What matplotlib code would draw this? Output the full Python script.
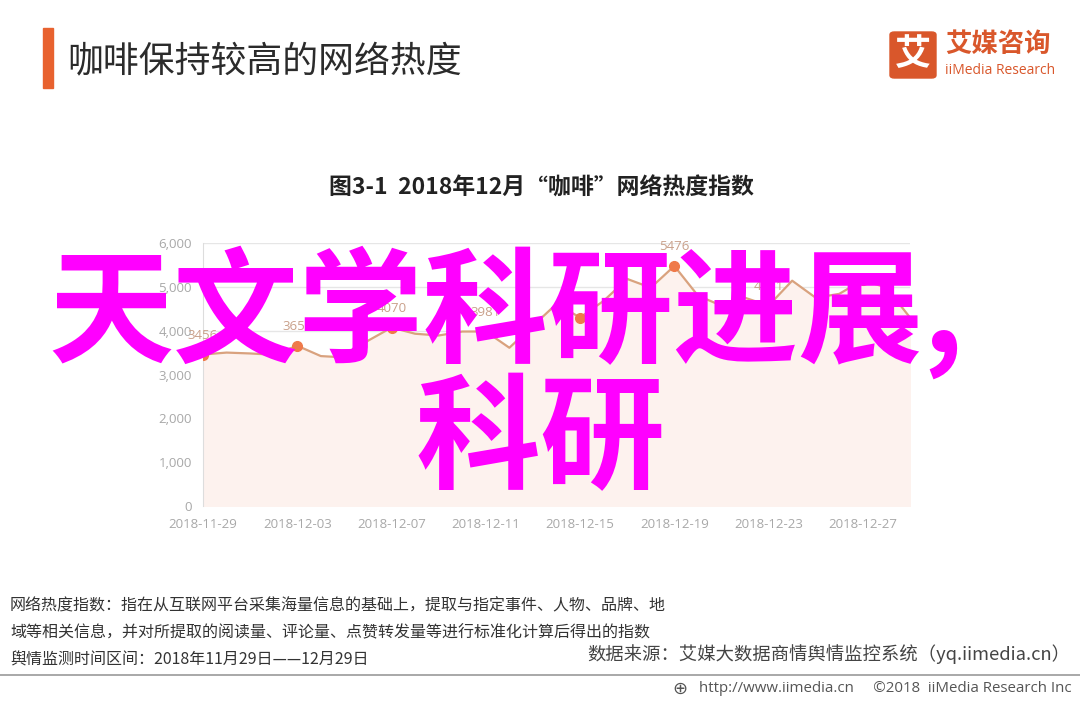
import matplotlib
matplotlib.use("Agg")
import matplotlib.pyplot as plt
import pandas as pd
from matplotlib.patches import FancyBboxPatch, Rectangle
from matplotlib.lines import Line2D

plt.rcParams['font.family'] = ['Noto Sans CJK SC', 'DejaVu Sans']

# ---- data ----
dates = [d.strftime('%Y-%m-%d') for d in pd.date_range('2018-11-29', '2018-12-29')]
values = [3456, 3500, 3480, 3450, 3656, 3420, 3390, 3770, 4070, 3930,
          3890, 3980, 3981, 3610, 4110, 4610, 4300, 4680, 5180, 4980,
          5476, 4800, 4570, 4750, 4571, 5140, 4750, 4840, 5157, 4980,
          4300]
label_idx = [0, 4, 8, 12, 16, 20, 24, 28]
xtick_idx = [0, 4, 8, 12, 16, 20, 24, 28]
yticks = [0, 1000, 2000, 3000, 4000, 5000, 6000]

W, H = 1080, 702
fig = plt.figure(figsize=(W / 100, H / 100), dpi=100)
fig.patch.set_facecolor('white')

def fx(px):
    return px / W

def fy(py):
    return 1 - py / H

# ---- header ----
fig.patches.append(Rectangle((fx(43), fy(88)), 10 / W, (88 - 28) / H,
                             transform=fig.transFigure, color='#E8622F'))
fig.text(fx(67), fy(62), '咖啡保持较高的网络热度', fontsize=25.8, color='#2b2b2b',
         va='center', ha='left')

# logo
fig.patches.append(FancyBboxPatch((fx(890), fy(78)), 46 / W, 46 / H,
                                  boxstyle='round,pad=0,rounding_size=0.004',
                                  transform=fig.transFigure, color='#D9572B'))
fig.text(fx(913), fy(55), '艾', fontsize=26, color='white', fontweight='bold',
         ha='center', va='center')
fig.text(fx(945), fy(44), '艾媒咨询', fontsize=19, color='#D9572B', fontweight='bold',
         ha='left', va='center')
fig.text(fx(945), fy(71), 'iiMedia Research', fontsize=10, color='#D9572B',
         ha='left', va='center', family=['Open Sans', 'DejaVu Sans'])

# chart title
fig.text(fx(541), fy(188), '图3-1  2018年12月“咖啡”网络热度指数', fontsize=16.5,
         color='#222222', fontweight='bold', ha='center', va='center')

# ---- chart ----
ax = fig.add_axes([fx(203), fy(506), (910 - 203) / W, (506 - 243) / H])
x = list(range(len(values)))
ax.fill_between(x, values, 0, color='#FDF2EE', zorder=1)
ax.plot(x, values, color='#D9A27E', lw=1.6, zorder=3)
ax.plot([x[i] for i in label_idx], [values[i] for i in label_idx], 'o',
        color='#EF7A4A', ms=7, zorder=4)
for i in label_idx:
    ax.annotate(str(values[i]), (x[i], values[i]), xytext=(0, 9),
                textcoords='offset points', ha='center', va='bottom',
                fontsize=9.5, color='#C9A08A',
                family=['Open Sans', 'DejaVu Sans'])

ax.set_xlim(0, 30)
ax.set_ylim(0, 6000)
ax.set_yticks(yticks)
ax.set_yticklabels([f'{v:,}' for v in yticks])
ax.set_xticks(xtick_idx)
ax.set_xticklabels([dates[i] for i in xtick_idx])
ax.grid(axis='y', color='#E6E6E6', lw=1)
ax.set_axisbelow(True)
for s in ['top', 'right', 'bottom']:
    ax.spines[s].set_visible(False)
ax.spines['left'].set_color('#DDDDDD')
ax.tick_params(axis='both', length=0, labelsize=9.5, colors='#A8A8A8')
ax.tick_params(axis='y', pad=8)
ax.tick_params(axis='x', pad=9)
for lab in ax.get_xticklabels() + ax.get_yticklabels():
    lab.set_family(['Open Sans', 'DejaVu Sans'])
ax.set_facecolor('white')

# ---- footer ----
foot = ['网络热度指数：指在从互联网平台采集海量信息的基础上，提取与指定事件、人物、品牌、地',
        '域等相关信息，并对所提取的阅读量、评论量、点赞转发量等进行标准化计算后得出的指数',
        '舆情监测时间区间：2018年11月29日——12月29日']
for t, py in zip(foot, [606, 633, 660]):
    fig.text(fx(10), fy(py), t, fontsize=11.5, color='#333333', ha='left', va='center')
fig.text(fx(1070), fy(654), '数据来源：艾媒大数据商情舆情监控系统（yq.iimedia.cn）',
         fontsize=13.2, color='#444444', ha='right', va='center')
fig.add_artist(Line2D([0, 1], [fy(675), fy(675)], transform=fig.transFigure,
                      color='#999999', lw=1.2))
fig.text(fx(1072), fy(689), 'http://www.iimedia.cn     ©2018  iiMedia Research Inc',
         fontsize=10.8, color='#555555', ha='right', va='center',
         family=['Open Sans', 'DejaVu Sans'])
fig.text(fx(680), fy(689), '⊕', fontsize=13, color='#555555', ha='center', va='center',
         family=['DejaVu Sans'])

# ---- overlay ----
fig.text(fx(48), fy(353), '天文学科研进展,', fontsize=90, color='#FF00FF',
         fontweight='bold', ha='left', va='baseline')
fig.text(fx(540), fy(479), '科研', fontsize=90, color='#FF00FF',
         fontweight='bold', ha='center', va='baseline')

fig.savefig('out.png', dpi=100, facecolor='white')
